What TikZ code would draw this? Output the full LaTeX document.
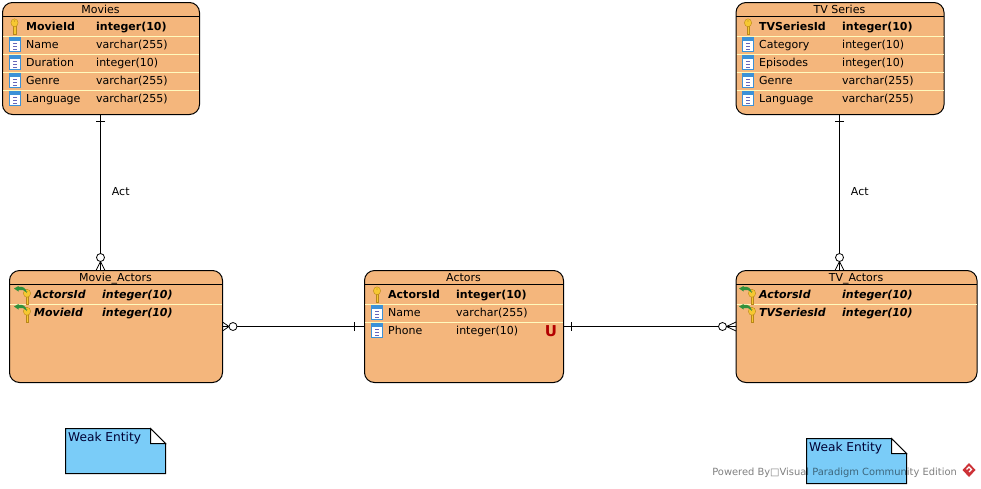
\documentclass[tikz,border=0pt]{standalone}
\usepackage{fontspec}
\setmainfont{DejaVu Sans}
\definecolor{entityfill}{RGB}{244,182,124}
\definecolor{rowline}{RGB}{255,250,190}
\definecolor{notefill}{RGB}{122,204,248}
\definecolor{keygold}{RGB}{246,200,50}
\definecolor{keydark}{RGB}{185,135,25}
\definecolor{colblue}{RGB}{60,145,215}
\definecolor{fkgreen}{RGB}{50,145,60}
\definecolor{logored}{RGB}{205,50,55}
\usetikzlibrary{positioning}

\tikzset{
    entity/.style = {draw, line width=1pt, fill=entityfill, rounded corners=10pt, inner sep=0pt, outer sep=0pt},
    entitytitle/.style = {font=\fontsize{11}{13}\selectfont, inner sep=0pt, anchor=base, text=black},
    attr/.style = {font=\fontsize{11}{13}\selectfont, inner sep=0pt, anchor=base west, text=black},
    attrpk/.style = {attr, font=\fontsize{11}{13}\selectfont\bfseries},
    attrfk/.style = {attr, font=\fontsize{11}{13}\selectfont\bfseries\itshape},
    rowsep/.style = {rowline, line width=1pt, shorten >=.5pt, shorten <=.5pt},
    conn/.style = {line width=.8pt, black},
    pics/keyicon/.style = {code={
        \fill[keygold, draw=keydark, line width=.4pt] (-1.3,-1) -- (-1.3,8) -- (1.3,8) -- (1.3,-1) -- cycle;
        \fill[keygold, draw=keydark, line width=.4pt] (0,-3.2) ellipse (3.6 and 4);
        \fill[keydark] (0,-5) circle (.7);
    }},
    pics/colicon/.style = {code={
        \fill[white, draw=colblue, line width=.9pt] (-5.4,-7) rectangle (5.4,7);
        \fill[colblue] (-5.4,-7) rectangle (5.4,-3);
        \foreach \dashy in {-1,2,5} {
            \draw[black!45!blue!60!white, line width=.9pt] (-2,\dashy) -- (2,\dashy);
        }
    }},
    pics/fkicon/.style = {code={
        \begin{scope}[shift={(5,2.5)}, scale=.85]
            \pic {keyicon};
        \end{scope}
        \fill[fkgreen] (-8,-5.5) -- (-3.5,-8) -- (-3.5,-7) .. controls (1,-8) and (4,-6) .. (5,-1) .. controls (2,-4) and (-1,-5) .. (-3.5,-4) -- (-3.5,-2.5) -- cycle;
    }},
    pics/manyend/.style = {code={
        \draw[conn] (0,0) -- (-#1+4,0) (0,-4.5) -- (-#1+4,0) -- (0,4.5);
        \draw[conn, fill=white] (-#1,0) circle (4);
    }},
    pics/oneend/.style = {code={
        \draw[conn] (#1,-4.5) -- (#1,4.5);
    }},
    pics/notebox/.style = {code={
        \fill[notefill, draw=black, line width=1pt] (0,0) -- (85,0) -- (100,15) -- (100,45) -- (0,45) -- cycle;
        \fill[white, draw=black, line width=1pt] (85,0) -- (100,15) -- (85,15) -- cycle;
        \node[anchor=base west, inner sep=0pt, font=\fontsize{12.2}{15}\selectfont, text=black!80!blue] (-label) at (2.5,13) {Weak Entity};
    }},
}

\newcommand{\entitybox}[5]{
    \node[entity, minimum width=#3pt, minimum height=#4pt] (#1) at (#2) {};
    \node[entitytitle] (#1title) at ([xshift=-.5pt, yshift=-10.5pt]#1.north) {#5};
    \draw[line width=1pt] ([yshift=-13.5pt]#1.north west) -- ([yshift=-13.5pt]#1.north east);
}

\begin{document}
\begin{tikzpicture}[x=1pt, y=-1pt]
    \useasboundingbox (0,0) rectangle (981,488);

    % Entities
    \entitybox{movies}{101,58.5}{197}{112}{Movies}
    \pic at (14.5,26) {keyicon};
    \node [attrpk] (moviesid) at (26,30) {MovieId};
    \node [attrpk] (moviesidtype) at (96,30) {integer(10)};
    \foreach \rowy/\rowname/\rowtype in {44/Name/varchar(255), 62/Duration/integer(10), 80/Genre/varchar(255), 98/Language/varchar(255)} {
        \draw [rowsep] (movies.west |- 0,\rowy-7.5) -- (movies.east |- 0,\rowy-7.5);
        \pic at (15,\rowy) {colicon};
        \node [attr] (movies\rowy) at (26,\rowy+4) {\rowname};
        \node [attr] (movies\rowy type) at (96,\rowy+4) {\rowtype};
    }

    \entitybox{tvseries}{840,58.5}{208}{112}{TV Series}
    \pic at (748,26) {keyicon};
    \node [attrpk] (tvseriesid) at (759,30) {TVSeriesId};
    \node [attrpk] (tvseriesidtype) at (842,30) {integer(10)};
    \foreach \rowy/\rowname/\rowtype in {44/Category/integer(10), 62/Episodes/integer(10), 80/Genre/varchar(255), 98/Language/varchar(255)} {
        \draw [rowsep] (tvseries.west |- 0,\rowy-7.5) -- (tvseries.east |- 0,\rowy-7.5);
        \pic at (748,\rowy) {colicon};
        \node [attr] (tvseries\rowy) at (759,\rowy+4) {\rowname};
        \node [attr] (tvseries\rowy type) at (842,\rowy+4) {\rowtype};
    }

    \entitybox{movieactors}{116,326.5}{213}{112}{Movie\_Actors}
    \draw [rowsep] (movieactors.west |- 0,304.5) -- (movieactors.east |- 0,304.5);
    \foreach \rowy/\rowname in {294/ActorsId, 312/MovieId} {
        \pic at (22,\rowy) {fkicon};
        \node [attrfk] (movieactors\rowy) at (34,\rowy+4) {\rowname};
        \node [attrfk] (movieactors\rowy type) at (102,\rowy+4) {integer(10)};
    }

    \entitybox{actors}{464,326.5}{199}{112}{Actors}
    \pic at (377,294) {keyicon};
    \node [attrpk] (actorsid) at (388,298) {ActorsId};
    \node [attrpk] (actorsidtype) at (456,298) {integer(10)};
    \foreach \rowy/\rowname/\rowtype in {312/Name/varchar(255), 330/Phone/integer(10)} {
        \draw [rowsep] (actors.west |- 0,\rowy-7.5) -- (actors.east |- 0,\rowy-7.5);
        \pic at (377,\rowy) {colicon};
        \node [attr] (actors\rowy) at (388,\rowy+4) {\rowname};
        \node [attr] (actors\rowy type) at (456,\rowy+4) {\rowtype};
    }
    \node [font=\fontsize{15}{15}\selectfont\bfseries, text=red!70!black, inner sep=0pt] (unique) at (551,331) {U};

    \entitybox{tvactors}{856.5,326.5}{241}{112}{TV\_Actors}
    \draw [rowsep] (tvactors.west |- 0,304.5) -- (tvactors.east |- 0,304.5);
    \foreach \rowy/\rowname in {294/ActorsId, 312/TVSeriesId} {
        \pic at (747,\rowy) {fkicon};
        \node [attrfk] (tvactors\rowy) at (759,\rowy+4) {\rowname};
        \node [attrfk] (tvactors\rowy type) at (842,\rowy+4) {integer(10)};
    }

    % Relations
    \draw [conn] ([xshift=-.5pt]movies.south) -- node[attr, anchor=west, xshift=11pt, yshift=1pt] (act1) {Act} ([xshift=-.5pt]movies.south |- movieactors.north)
        pic[pos=0, sloped, allow upside down] {oneend=7}
        pic[pos=1, sloped, allow upside down] {manyend=13};
    \draw [conn] ([xshift=-.5pt]tvseries.south) -- node[attr, anchor=west, xshift=11pt, yshift=1pt] (act2) {Act} ([xshift=-.5pt]tvseries.south |- tvactors.north)
        pic[pos=0, sloped, allow upside down] {oneend=7}
        pic[pos=1, sloped, allow upside down] {manyend=13};
    \draw [conn] (actors.west) -- (movieactors.east)
        pic[pos=0, sloped, allow upside down] {oneend=10}
        pic[pos=1, sloped, allow upside down] {manyend=10.5};
    \draw [conn] (actors.east) -- (tvactors.west)
        pic[pos=0, sloped, allow upside down] {oneend=8}
        pic[pos=1, sloped, allow upside down] {manyend=13.5};

    % Notes
    \pic (note1) at (65.5,428.5) {notebox};
    \pic (note2) at (806.5,438.5) {notebox};

    % Watermark
    \node [attr, anchor=base east, font=\fontsize{9.9}{12}\selectfont, text opacity=.5] (powered) at (957,475) {Powered By□Visual Paradigm Community Edition};
    \fill [logored] (969,463) -- (975.5,470) -- (969,477) -- (962.5,470) -- cycle;
    \draw [white, line width=1.2pt] (966.5,469.5) -- (969,467) -- (971.5,469.5) -- (969,472);
\end{tikzpicture}
\end{document}
